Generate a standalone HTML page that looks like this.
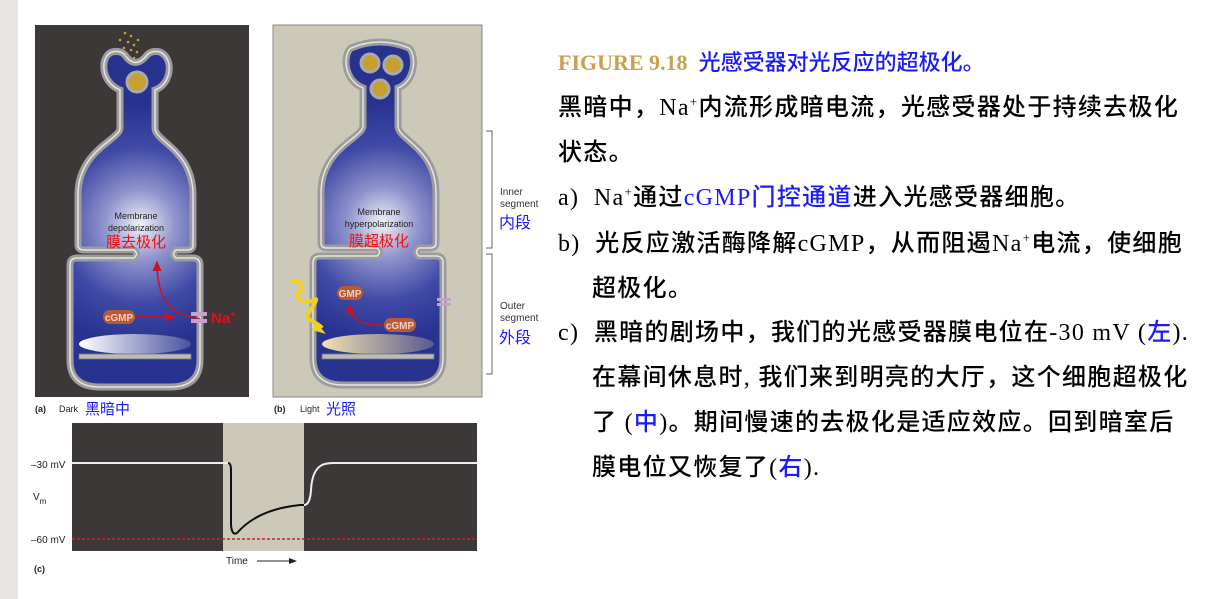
<!DOCTYPE html>
<html><head><meta charset="utf-8"><style>
body{margin:0;width:1208px;height:599px;background:#fff;position:relative;overflow:hidden;font-family:"Liberation Sans","Noto Sans CJK SC",sans-serif}
.t{position:absolute;white-space:nowrap;font-family:"Liberation Serif","Noto Sans CJK SC",serif;font-size:24px;color:#000;line-height:30px;letter-spacing:1.3px;font-weight:500}
.b{color:#1a1aff}
sup{font-size:13px;vertical-align:9px;line-height:0}
.s{position:absolute;font-size:10px;color:#333;line-height:12px}
.cj{position:absolute;font-size:16px;color:#1a1aff;font-family:"Noto Sans CJK SC",sans-serif}
</style></head><body>
<div style="position:absolute;left:0;top:0;width:18px;height:599px;background:#e8e5e2"></div>
<svg width="1208" height="599" style="position:absolute;left:0;top:0">
<defs>
<radialGradient id="ga" gradientUnits="userSpaceOnUse" cx="140" cy="225" r="120"><stop offset="0" stop-color="#f2f2f8"/><stop offset="0.3" stop-color="#8f93cc"/><stop offset="0.65" stop-color="#3f4aa6"/><stop offset="1" stop-color="#27338e"/></radialGradient>
<radialGradient id="gb" gradientUnits="userSpaceOnUse" cx="140" cy="225" r="120"><stop offset="0" stop-color="#f2f2f8"/><stop offset="0.3" stop-color="#8f93cc"/><stop offset="0.65" stop-color="#3f4aa6"/><stop offset="1" stop-color="#27338e"/></radialGradient>
<linearGradient id="da" x1="0" x2="1"><stop offset="0" stop-color="#fff"/><stop offset="1" stop-color="#4a52a0"/></linearGradient>
<linearGradient id="db" x1="0" x2="1"><stop offset="0" stop-color="#f0e0b0"/><stop offset="1" stop-color="#5a5a90"/></linearGradient>
<marker id="ar" markerWidth="8" markerHeight="8" refX="6" refY="4" orient="auto"><path d="M0,1 L7,4 L0,7 Z" fill="#d01020"/></marker>
</defs>
<rect x="35" y="25" width="214" height="372" fill="#3d3838"/>
<rect x="273" y="25" width="209" height="372" fill="#cdc9b9" stroke="#888" stroke-width="1"/>
<g id="cellA">
<path d="M120,90 C100,82 100,56 112,52 Q120,50 125,55 Q135,70 147,55 Q152,50 160,52 C174,58 172,84 155,90 L155,128 C155,142 193,150 193,195 L193,245 Q193,250 187,250 L176,250 Q171,254 176,258 L193,258 Q200,258 200,265 L200,360 Q200,387 170,387 L100,387 Q70,387 70,360 L70,265 Q70,258 77,258 L134,258 Q139,254 134,250 L84,250 Q78,250 78,245 L78,195 C78,150 120,140 120,128 Z" fill="url(#ga)" stroke="#9c9c9c" stroke-width="7"/>
<path d="M120,90 C100,82 100,56 112,52 Q120,50 125,55 Q135,70 147,55 Q152,50 160,52 C174,58 172,84 155,90 L155,128 C155,142 193,150 193,195 L193,245 Q193,250 187,250 L176,250 Q171,254 176,258 L193,258 Q200,258 200,265 L200,360 Q200,387 170,387 L100,387 Q70,387 70,360 L70,265 Q70,258 77,258 L134,258 Q139,254 134,250 L84,250 Q78,250 78,245 L78,195 C78,150 120,140 120,128 Z" fill="none" stroke="#e4e4e4" stroke-width="1.5"/>
</g>
<circle cx="137" cy="82" r="10" fill="#c9a030" stroke="#aaa" stroke-width="3"/>
<g fill="#c9a030"><circle cx="125" cy="33" r="1.3"/><circle cx="131" cy="36" r="1.3"/><circle cx="120" cy="40" r="1.3"/><circle cx="128" cy="42" r="1.3"/><circle cx="134" cy="45" r="1.3"/><circle cx="124" cy="48" r="1.3"/><circle cx="131" cy="50" r="1.3"/><circle cx="137" cy="52" r="1.3"/><circle cx="127" cy="55" r="1.3"/><circle cx="134" cy="58" r="1.3"/><circle cx="138" cy="40" r="1.3"/></g>
<ellipse cx="135" cy="344" rx="56" ry="10" fill="url(#da)"/>
<rect x="79" y="354" width="112" height="5" fill="#bbb" stroke="#777" stroke-width="0.8"/>
<rect x="103" y="310" width="32" height="14" rx="7" fill="#b85a3a"/>
<text x="119" y="321" font-size="10" font-weight="bold" fill="#f0d0c0" text-anchor="middle">cGMP</text>
<line x1="136" y1="317" x2="174" y2="317" stroke="#d01020" stroke-width="1.5" marker-end="url(#ar)"/>
<path d="M200,319 C170,315 157,300 157,262" fill="none" stroke="#d01020" stroke-width="1.5" marker-end="url(#ar)"/>
<rect x="191" y="312" width="16" height="4" fill="#c8a0c8"/><rect x="191" y="319" width="16" height="4" fill="#c8a0c8"/>
<text x="211" y="323" font-size="15" font-weight="bold" fill="#e01020">Na<tspan font-size="9" dy="-6">+</tspan></text>
<text x="136" y="219" font-size="9" fill="#222" text-anchor="middle">Membrane</text>
<text x="136" y="231" font-size="9" fill="#222" text-anchor="middle">depolarization</text>
<text x="136" y="247" font-size="15" fill="#f01010" text-anchor="middle" font-family="Noto Sans CJK SC">膜去极化</text>
<g transform="translate(243,-2)">
<path d="M120,90 C100,82 100,56 108,50 Q137,38 166,50 C174,58 172,84 155,90 L155,128 C155,142 193,150 193,195 L193,245 Q193,250 187,250 L176,250 Q171,254 176,258 L193,258 Q200,258 200,265 L200,360 Q200,387 170,387 L100,387 Q70,387 70,360 L70,265 Q70,258 77,258 L134,258 Q139,254 134,250 L84,250 Q78,250 78,245 L78,195 C78,150 120,140 120,128 Z" fill="url(#gb)" stroke="#9c9c9c" stroke-width="7"/>
<path d="M120,90 C100,82 100,56 108,50 Q137,38 166,50 C174,58 172,84 155,90 L155,128 C155,142 193,150 193,195 L193,245 Q193,250 187,250 L176,250 Q171,254 176,258 L193,258 Q200,258 200,265 L200,360 Q200,387 170,387 L100,387 Q70,387 70,360 L70,265 Q70,258 77,258 L134,258 Q139,254 134,250 L84,250 Q78,250 78,245 L78,195 C78,150 120,140 120,128 Z" fill="none" stroke="#e4e4e4" stroke-width="1.5"/>
</g>
<g fill="#c9a030" stroke="#aaa" stroke-width="3"><circle cx="370" cy="63" r="9"/><circle cx="393" cy="65" r="9"/><circle cx="380" cy="89" r="9"/></g>
<ellipse cx="378" cy="344" rx="56" ry="10" fill="url(#db)"/>
<rect x="322" y="354" width="112" height="5" fill="#bbb" stroke="#777" stroke-width="0.8"/>
<rect x="337" y="286" width="26" height="14" rx="7" fill="#b85a3a"/>
<text x="350" y="297" font-size="10" font-weight="bold" fill="#f0d0c0" text-anchor="middle">GMP</text>
<rect x="384" y="318" width="32" height="14" rx="7" fill="#b85a3a"/>
<text x="400" y="329" font-size="10" font-weight="bold" fill="#f0d0c0" text-anchor="middle">cGMP</text>
<path d="M384,325 C360,326 350,318 350,305" fill="none" stroke="#d01020" stroke-width="1.5" marker-end="url(#ar)"/>
<rect x="437" y="298" width="14" height="3" fill="#c8a0c8"/><rect x="437" y="303" width="14" height="3" fill="#c8a0c8"/>
<path d="M291,282 C300,278 305,286 299,292 C293,298 306,305 314,300 C320,296 312,308 308,314 C304,320 318,322 322,328" fill="none" stroke="#f0d020" stroke-width="4"/>
<path d="M316,322 L326,334 L312,330 Z" fill="#f0d020"/>
<text x="379" y="215" font-size="9" fill="#222" text-anchor="middle">Membrane</text>
<text x="379" y="227" font-size="9" fill="#222" text-anchor="middle">hyperpolarization</text>
<text x="379" y="246" font-size="15" fill="#f01010" text-anchor="middle" font-family="Noto Sans CJK SC">膜超极化</text>
<text x="35" y="412" font-size="9" font-weight="bold" fill="#222">(a)</text>
<text x="59" y="412" font-size="9" fill="#222">Dark</text>
<text x="85" y="414" font-size="15" fill="#1a1aff" font-family="Noto Sans CJK SC">黑暗中</text>
<text x="274" y="412" font-size="9" font-weight="bold" fill="#222">(b)</text>
<text x="300" y="412" font-size="9" fill="#222">Light</text>
<text x="326" y="414" font-size="15" fill="#1a1aff" font-family="Noto Sans CJK SC">光照</text>
<path d="M486,131 L492,131 L492,248 L486,248 M486,254 L492,254 L492,374 L486,374" fill="none" stroke="#666" stroke-width="1"/>
<rect x="72" y="423" width="405" height="128" fill="#3d3838"/>
<rect x="223" y="423" width="81" height="128" fill="#cdc9b9"/>
<line x1="72" y1="539" x2="477" y2="539" stroke="#d02020" stroke-width="1.5" stroke-dasharray="3,2"/>
<path d="M72,463 L228,463" stroke="#eee" stroke-width="2" fill="none"/>
<path d="M228,463 Q231,463 231,470 L231,525 Q232,536 237,533 C250,518 270,508 300,505 L304,505" stroke="#111" stroke-width="2" fill="none"/>
<path d="M304,505 Q310,505 311,490 Q312,470 322,465 Q326,463 335,463 L477,463" stroke="#eee" stroke-width="2" fill="none"/>
<text x="31" y="468" font-size="10" fill="#222">–30 mV</text>
<text x="33" y="500" font-size="10" fill="#222">V<tspan font-size="8" dy="4">m</tspan></text>
<text x="31" y="543" font-size="10" fill="#222">–60 mV</text>
<text x="34" y="572" font-size="9" font-weight="bold" fill="#222">(c)</text>
<text x="226" y="564" font-size="10" fill="#222">Time</text>
<line x1="257" y1="561" x2="293" y2="561" stroke="#222" stroke-width="1"/>
<path d="M297,561 L289,558 L289,564 Z" fill="#222"/>
</svg>
<div class="s" style="left:500px;top:187px">Inner<br>segment</div>
<div class="cj" style="left:499px;top:209px">内段</div>
<div class="s" style="left:500px;top:301px">Outer<br>segment</div>
<div class="cj" style="left:499px;top:324px">外段</div>

<div class="t" style="left:558px;top:48px;font-size:22px;letter-spacing:0"><b style="color:#c9a050">FIGURE 9.18</b>&nbsp; <span class="b">光感受器对光反应的超极化。</span></div>
<div class="t" style="left:558px;top:93px">黑暗中，Na<sup>+</sup>内流形成暗电流，光感受器处于持续去极化</div>
<div class="t" style="left:558px;top:138px">状态。</div>
<div class="t" style="left:558px;top:183px">a)&nbsp; Na<sup>+</sup>通过<span class="b">cGMP门控通道</span>进入光感受器细胞。</div>
<div class="t" style="left:558px;top:229px">b)&nbsp; 光反应激活酶降解cGMP，从而阻遏Na<sup>+</sup>电流，使细胞</div>
<div class="t" style="left:592px;top:274px">超极化。</div>
<div class="t" style="left:558px;top:318px">c)&nbsp; 黑暗的剧场中，我们的光感受器膜电位在-30 mV (<span class="b">左</span>).</div>
<div class="t" style="left:592px;top:363px">在幕间休息时, 我们来到明亮的大厅，这个细胞超极化</div>
<div class="t" style="left:592px;top:408px">了 (<span class="b">中</span>)。期间慢速的去极化是适应效应。回到暗室后</div>
<div class="t" style="left:592px;top:453px">膜电位又恢复了(<span class="b">右</span>).</div>
</body></html>
